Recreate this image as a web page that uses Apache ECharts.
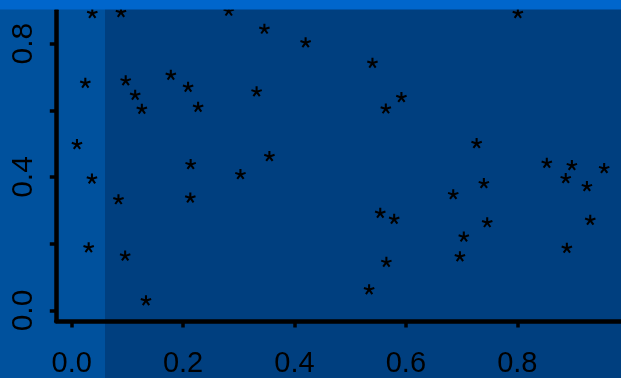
<!DOCTYPE html>
<html>
<head>
<meta charset="utf-8">
<script src="https://cdn.jsdelivr.net/npm/echarts@6/dist/echarts.min.js"></script>
<style>
html,body{margin:0;padding:0;background:#003f7f;}
#chart{width:621px;height:378px;}
</style>
</head>
<body>
<div id="chart"></div>
<script>
// Data
var xValues = [0.037,0.0885,0.282,0.801,0.346,0.420,0.540,0.0245,0.097,0.178,0.209,0.114,0.126,0.227,0.332,0.592,0.564,0.0095,0.727,0.853,0.898,0.956,0.0364,0.2136,0.355,0.303,0.887,0.740,0.925,0.084,0.213,0.685,0.554,0.579,0.746,0.931,0.704,0.0305,0.096,0.565,0.697,0.889,0.534,0.1334];
var yValues = [0.891,0.894,0.898,0.891,0.844,0.803,0.742,0.682,0.689,0.706,0.670,0.646,0.604,0.610,0.656,0.639,0.605,0.498,0.501,0.442,0.435,0.426,0.395,0.438,0.462,0.408,0.396,0.381,0.372,0.333,0.338,0.348,0.292,0.274,0.264,0.271,0.221,0.189,0.164,0.145,0.162,0.187,0.063,0.030];
var xTicks = [0, 0.2, 0.4, 0.6, 0.8];
var yTicks = [0, 0.2, 0.4, 0.6, 0.8];
var yTickLabels = [0, 0.4, 0.8];

// asterisk symbol shape (5 arms)
function asteriskPath() {
  var L = 5, w = 1.9, d = '';
  for (var k = 0; k < 5; k++) {
    var a = (-90 + 72 * k) * Math.PI / 180;
    var dx = Math.cos(a), dy = Math.sin(a);
    var nx = -dy, ny = dx;
    var p = [
      [-0.5 * dx - w / 2 * nx, -0.5 * dy - w / 2 * ny],
      [L * dx - w / 2 * nx, L * dy - w / 2 * ny],
      [L * dx + w / 2 * nx, L * dy + w / 2 * ny],
      [-0.5 * dx + w / 2 * nx, -0.5 * dy + w / 2 * ny]
    ];
    d += 'M' + p.map(function (q) { return q[0].toFixed(3) + ' ' + q[1].toFixed(3); }).join('L') + 'Z';
  }
  return 'path://' + d;
}

var points = xValues.map(function (x, i) { return [x, yValues[i]]; });
var font = 'Liberation Sans, Arial, Helvetica, sans-serif';

var chart = echarts.init(document.getElementById('chart'), null, {renderer: 'canvas'});
chart.setOption({
  backgroundColor: '#003f7f',
  animation: false,
  graphic: [
    {type: 'rect', shape: {x: 0, y: 0, width: 105, height: 378}, style: {fill: '#00519d'}, z: -10, silent: true},
    {type: 'rect', shape: {x: 0, y: 0, width: 621, height: 9.5}, style: {fill: '#0066cc'}, z: 100, silent: true}
  ],
  grid: {left: 56.3, right: 0, top: 10.2, bottom: 55.7, containLabel: false},
  xAxis: {
    type: 'value', min: -0.0276, max: 0.9862,
    axisLine: {show: true, onZero: false, lineStyle: {color: '#000', width: 4.5}},
    axisTick: {show: true, customValues: xTicks, length: 6.5, lineStyle: {color: '#000', width: 3.5}},
    axisLabel: {show: true, customValues: xTicks, margin: 28, color: '#000', fontSize: 29, fontFamily: font,
      formatter: function (v) { return v.toFixed(1); }},
    splitLine: {show: false}
  },
  yAxis: {
    type: 'value', min: -0.0316, max: 0.9,
    axisLine: {show: true, onZero: false, lineStyle: {color: '#000', width: 4.5}},
    axisTick: {show: true, customValues: yTicks, length: 6.5, lineStyle: {color: '#000', width: 3.5}},
    axisLabel: {show: true, customValues: yTickLabels, rotate: 90, margin: 18, color: '#000', fontSize: 30, fontFamily: font,
      formatter: function (v) { return v.toFixed(1); }},
    splitLine: {show: false}
  },
  series: [{
    type: 'scatter',
    data: points,
    clip: false,
    symbol: asteriskPath(),
    symbolSize: 11,
    symbolKeepAspect: true,
    itemStyle: {color: '#000', opacity: 1},
    z: 5
  }]
});
</script>
</body>
</html>
